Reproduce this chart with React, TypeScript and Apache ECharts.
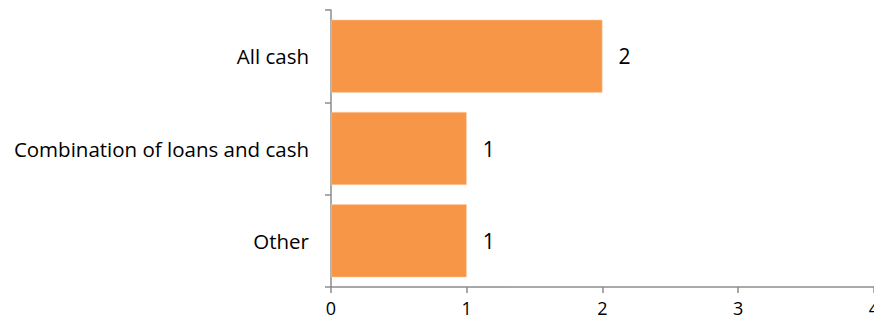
import React, { useEffect, useRef } from "react";
import * as echarts from "echarts";

const categories = ["All cash", "Combination of loans and cash", "Other"];
const values = [2, 1, 1];
const xTicks = [0, 1, 2, 3, 4];

export default function App() {
  const ref = useRef<HTMLDivElement>(null);
  useEffect(() => {
    if (!ref.current) return;
    const chart = echarts.init(ref.current, null, { renderer: "svg" });
    const font = "'Open Sans', sans-serif";
    chart.setOption({
      animation: false,
      grid: { left: 323, right: 4, top: 2, bottom: 38, containLabel: false },
      xAxis: {
        type: "value",
        min: xTicks[0],
        max: xTicks[xTicks.length - 1],
        interval: 1,
        axisLine: { show: true, lineStyle: { color: "#8c8c8c", width: 1.5 } },
        axisTick: { show: true, length: 6, lineStyle: { color: "#8c8c8c", width: 1.5 } },
        splitLine: { show: false },
        axisLabel: { color: "#000", fontSize: 18, fontFamily: font, margin: 12 },
      },
      yAxis: {
        type: "category",
        data: categories,
        inverse: true,
        axisLine: { show: true, lineStyle: { color: "#8c8c8c", width: 1.5 } },
        axisTick: { show: true, length: 6, lineStyle: { color: "#8c8c8c", width: 1.5 } },
        axisLabel: { color: "#000", fontSize: 20.5, fontFamily: font, margin: 22 },
      },
      series: [
        {
          type: "bar",
          data: values,
          barCategoryGap: "21%",
          itemStyle: { color: "#F79646", borderColor: "#FBD0AD", borderWidth: 0.5 },
          label: {
            show: true,
            position: "right",
            distance: 16,
            color: "#000",
            fontSize: 21,
            fontFamily: font,
          },
        },
      ],
    });
    return () => chart.dispose();
  }, []);
  return <div ref={ref} style={{ width: 874, height: 317 }} />;
}
